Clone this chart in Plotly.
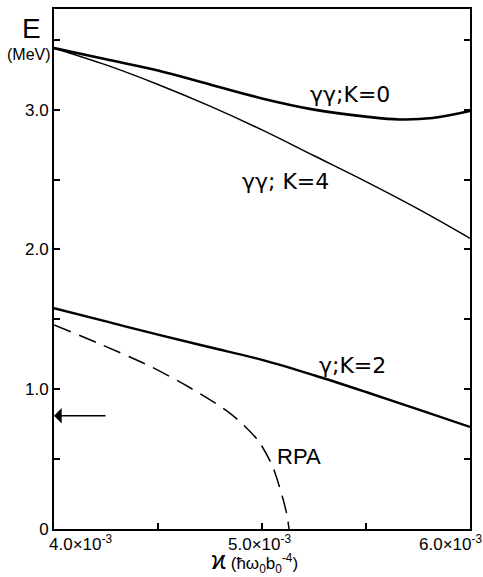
import plotly.graph_objects as go

# kappa in units of 1e-3 (hbar*omega0*b0^-4), E in MeV
k0_x = [4.0, 4.25, 4.5, 4.75, 5.0, 5.25, 5.5, 5.66, 5.82, 6.0]
k0_y = [3.44, 3.36, 3.28, 3.18, 3.08, 3.00, 2.95, 2.93, 2.94, 2.99]

k4_x = [4.0, 4.25, 4.5, 4.75, 5.0, 5.25, 5.5, 5.75, 6.0]
k4_y = [3.44, 3.32, 3.18, 3.025, 2.855, 2.67, 2.485, 2.29, 2.08]

k2_x = [4.0, 4.25, 4.5, 4.75, 5.0, 5.25, 5.5, 5.75, 6.0]
k2_y = [1.58, 1.485, 1.39, 1.30, 1.21, 1.10, 0.98, 0.855, 0.73]

rpa_x = [4.0, 4.22, 4.46, 4.65, 4.85, 4.98, 5.05, 5.10, 5.12, 5.13]
rpa_y = [1.46, 1.324, 1.166, 1.014, 0.824, 0.635, 0.45, 0.22, 0.10, 0.0]

arrow_y = 0.81
y_ticks = [0, 0.5, 1.0, 1.5, 2.0, 2.5, 3.0, 3.5]
y_ticktext = ["0", "", "1.0", "", "2.0", "", "3.0", ""]
x_ticks = [4.0, 4.5, 5.0, 5.5, 6.0]
x_label_text = ["4.0×10<sup>-3</sup>", "5.0×10<sup>-3</sup>", "6.0×10<sup>-3</sup>"]

FONT = "Liberation Sans"
GFONT = "DejaVu Sans"
fig = go.Figure()
fig.add_trace(go.Scatter(x=k0_x, y=k0_y, mode="lines", line=dict(color="black", width=2.6, shape="spline")))
fig.add_trace(go.Scatter(x=k4_x, y=k4_y, mode="lines", line=dict(color="black", width=1.5, shape="spline")))
fig.add_trace(go.Scatter(x=k2_x, y=k2_y, mode="lines", line=dict(color="black", width=2.4, shape="spline")))
fig.add_trace(go.Scatter(x=rpa_x, y=rpa_y, mode="lines",
                         line=dict(color="black", width=1.5, dash="18px,9px", shape="spline", smoothing=0.8)))

ann = []
ann.append(dict(x=5.423, y=3.105, text="γγ;K=0", showarrow=False, font=dict(size=22, family=GFONT)))
ann.append(dict(x=5.111, y=2.486, text="γγ; K=4", showarrow=False, font=dict(size=22, family=GFONT)))
ann.append(dict(x=5.433, y=1.168, text="γ;K=2", showarrow=False, font=dict(size=22, family=GFONT)))
ann.append(dict(x=5.178, y=0.52, text="RPA", showarrow=False, font=dict(size=22)))
# outside-plot texts in paper coordinates
ann.append(dict(xref="paper", yref="paper", x=-0.053, y=0.962, text="E", showarrow=False, font=dict(size=28)))
ann.append(dict(xref="paper", yref="paper", x=-0.06, y=0.912, text="(MeV)", showarrow=False, font=dict(size=16)))
label_px = [0.0625, 0.495, 0.952]
for lx, t in zip(label_px, x_label_text):
    ann.append(dict(xref="paper", yref="paper", x=lx, y=-0.026, text=t, showarrow=False, font=dict(size=17)))
ann.append(dict(xref="paper", yref="paper", x=0.483, y=-0.062,
                text="<span style='font-size:25px'>ϰ</span> (ħω<sub>0</sub>b<sub>0</sub><sup>-4</sup>)",
                showarrow=False, font=dict(size=17)))
ann.append(dict(x=4.0, y=arrow_y, ax=4.255, ay=arrow_y, axref="x", ayref="y", xref="x", yref="y",
                text="", showarrow=True, arrowhead=1, arrowsize=1.6, arrowwidth=1.6, arrowcolor="black"))
for a in ann:
    a.setdefault("xref", "x")
    a.setdefault("yref", "y")
    a.setdefault("font", {})
    a["font"].setdefault("family", FONT)
    a["font"]["color"] = "black"
    if not a.get("showarrow"):
        a["xanchor"] = "center"
        a["yanchor"] = "middle"

fig.update_layout(
    width=483, height=577,
    margin=dict(l=54, r=13, t=7, b=48),
    paper_bgcolor="white", plot_bgcolor="white",
    showlegend=False,
    annotations=ann,
    font=dict(family=FONT, color="black"),
)
fig.update_xaxes(range=[4.0, 6.0], tickvals=x_ticks, showticklabels=False, ticks="inside", ticklen=6,
                 tickwidth=1.5, tickcolor="black", showline=True, linecolor="black", linewidth=2,
                 mirror=True, showgrid=False, zeroline=False)
fig.update_yaxes(range=[0, 3.72], tickvals=y_ticks, ticktext=y_ticktext, ticks="inside", ticklen=6,
                 tickwidth=1.5, tickcolor="black", showline=True, linecolor="black", linewidth=2,
                 mirror="allticks", showgrid=False, zeroline=False, tickfont=dict(size=17, family=FONT))
fig.write_html("out.html")
